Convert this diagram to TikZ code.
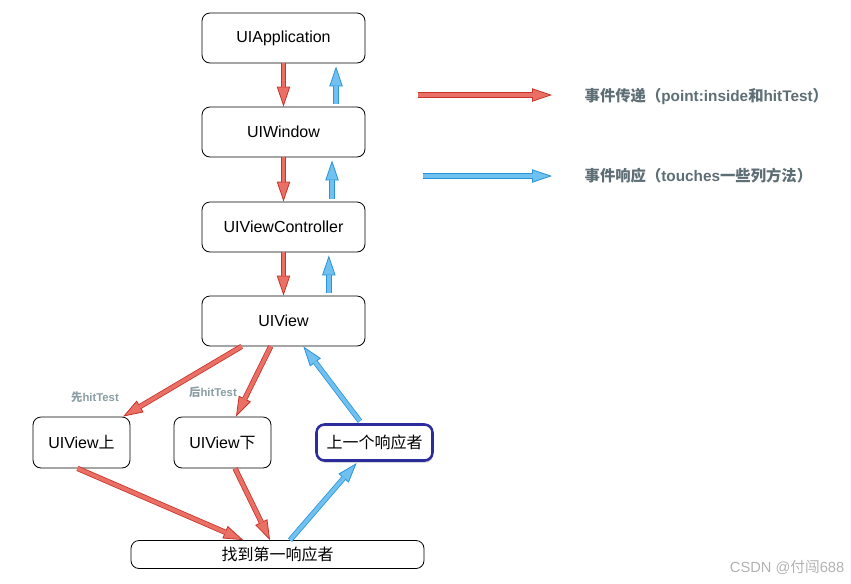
\documentclass[tikz,border=0pt]{standalone}
\usepackage{fontspec}
\setmainfont{Liberation Sans}
\newfontfamily\cjk{Noto Sans CJK SC}
\usetikzlibrary{arrows.meta,shadows}

\definecolor{redfill}{RGB}{234,112,102}
\definecolor{redline}{RGB}{198,52,42}
\definecolor{bluefill}{RGB}{112,192,240}
\definecolor{blueline}{RGB}{42,148,218}
\definecolor{navyline}{RGB}{44,44,156}
\definecolor{legendgray}{RGB}{94,110,117}
\definecolor{notegray}{RGB}{138,157,163}

\tikzset{
  blockarrow/.style n args={2}{draw=#2, line width=4pt,
    -{Triangle[width=10pt,length=15pt,fill=#1,line width=0.6pt]},
    postaction={draw=#1, line width=2.8pt, -, shorten >=14.4pt}},
  sendarrow/.style={blockarrow={redfill}{redline}},
  replyarrow/.style={blockarrow={bluefill}{blueline}},
  box/.style={draw, fill=white, rounded corners=6pt, line width=0.6pt, inner sep=0pt,
    minimum width=122.25pt, minimum height=37.5pt, font=\fontsize{12}{14}\selectfont},
  smallbox/.style={box, minimum width=72.75pt, minimum height=38.25pt},
  legend/.style={anchor=west, text=legendgray, font=\fontsize{11.5}{14}\selectfont\bfseries},
  note/.style={text=notegray, font=\fontsize{8.5}{10}\selectfont\bfseries},
}

\begin{document}
\begin{tikzpicture}[x=0.75pt, y=-0.75pt]
		\useasboundingbox (0, 0) rectangle (851, 583);
		
		%%%%% BOXES %%%%%
		\node[box] (app) at (283.5, 38) {UIApplication};
		\node[box] (win) at (283.5, 132) {UIWindow};
		\node[box] (vc) at (283.5, 227) {UIViewController};
		\node[box] (view) at (283.5, 321) {UIView};
		
		\node[smallbox] (viewUp) at (81.5, 442.5) {UIView{\cjk 上}};
		\node[smallbox] (viewDown) at (222.5, 442.5) {UIView{\cjk 下}};
		\node[box, draw=navyline, line width=1.9pt, minimum width=87pt, minimum height=27pt,
		  drop shadow={shadow xshift=0.4pt, shadow yshift=-1.6pt, fill=black!40, opacity=0.6}]
		  (prevResp) at (374.5, 442.5) {\cjk 上一个响应者};
		\node[box, minimum width=219.75pt, minimum height=21pt] (firstResp) at (277.5, 554.5) {\cjk 找到第一响应者};
		
		%%%%% DOWN THE CHAIN %%%%%
		\draw[sendarrow] (app.south) -- (win.north);
		\draw[sendarrow] (win.south) -- (vc.north);
		\draw[sendarrow] (vc.south) -- (view.north);
		
		%%%%% BACK UP THE CHAIN %%%%%
		\draw[replyarrow] ([xshift=39.4pt, yshift=2.25pt]win.north) -- ([xshift=39.4pt, yshift=-2.25pt]app.south);
		\draw[replyarrow] ([xshift=36.4pt, yshift=2.25pt]vc.north) -- ([xshift=36.4pt, yshift=-2.25pt]win.south);
		\draw[replyarrow] ([xshift=34pt, yshift=2.25pt]view.north) -- ([xshift=34pt, yshift=-2.25pt]vc.south);
		
		%%%%% HIT TEST %%%%%
		\draw[sendarrow] ([xshift=-31.4pt]view.south) -- ([xshift=31.1pt]viewUp.north);
		\draw[sendarrow] ([xshift=-9.6pt]view.south) -- ([xshift=10.1pt]viewDown.north);
		\node[note] (firstNote) at (95, 397) {{\cjk 先}hitTest};
		\node[note] (secondNote) at (213, 392) {{\cjk 后}hitTest};
		
		\draw[sendarrow] ([xshift=-3pt]viewUp.south) -- ([xshift=-25.6pt]firstResp.north);
		\draw[sendarrow] ([xshift=9.4pt]viewDown.south) -- ([xshift=-5.6pt]firstResp.north);
		
		\draw[replyarrow] ([xshift=9.4pt]firstResp.north) -- ([xshift=-13.4pt, yshift=-1pt]prevResp.south);
		\draw[replyarrow] ([xshift=-10.9pt, yshift=1.5pt]prevResp.north) -- ([xshift=14.9pt]view.south);
		
		%%%%% LEGEND %%%%%
		\coordinate (sendFrom) at (418, 95);
		\coordinate (sendTo) at (552, 95);
		\draw[sendarrow] (sendFrom) -- (sendTo);
		\node[legend] (sendText) at (580, 96) {{\cjk 事件传递（}point:inside{\cjk 和}hitTest{\cjk ）}};
		
		\coordinate (replyFrom) at (423, 176);
		\coordinate (replyTo) at (552, 176);
		\draw[replyarrow] (replyFrom) -- (replyTo);
		\node[legend] (replyText) at (580, 176) {{\cjk 事件响应（}touches{\cjk 一些列方法）}};
		
		%%%%% MARK %%%%%
		\node[anchor=east, text=black!30, font=\fontsize{11}{13}\selectfont] (mark) at (849, 567) {CSDN @{\cjk 付闯}688};
	\end{tikzpicture}
\end{document}
